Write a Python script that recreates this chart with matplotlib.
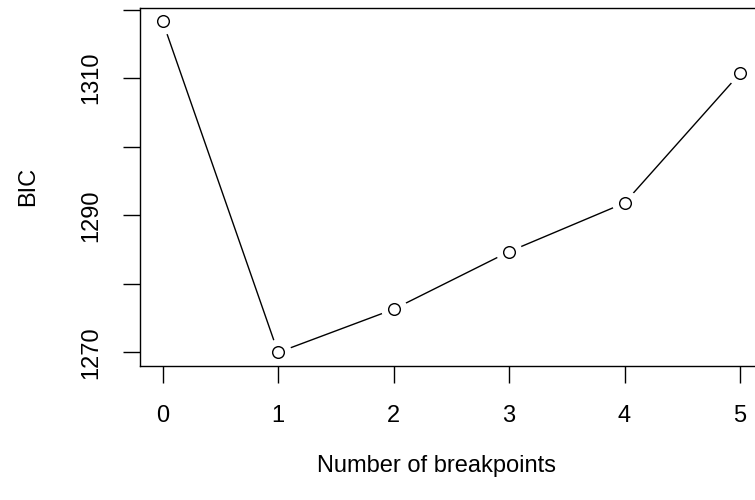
import matplotlib
matplotlib.use("Agg")
import matplotlib.pyplot as plt

breakpoints = [0, 1, 2, 3, 4, 5]
bic = [1318.3, 1270.0, 1276.3, 1284.7, 1291.8, 1310.7]
y_ticks = [1270, 1280, 1290, 1300, 1310, 1320]
y_tick_labels = ["1270", "", "1290", "", "1310", ""]

plt.rcParams["font.family"] = ["Liberation Sans", "DejaVu Sans"]

fig = plt.figure(figsize=(7.55, 5.0), dpi=100)
ax = fig.add_axes([139.5 / 755, 1 - 365.7 / 500, (763.1 - 139.5) / 755, (365.7 - 8) / 500])

# R type="b": line with gaps around the points
ax.plot(breakpoints, bic, color="black", lw=1.0, zorder=1)
ax.plot(breakpoints, bic, ls="none", marker="o", ms=19, mfc="white", mec="none", zorder=1.5)
ax.plot(breakpoints, bic, ls="none", marker="o", ms=8.4, mfc="white", mec="black", mew=1.0, zorder=2)

span = max(bic) - min(bic)
ax.set_xlim(-0.2, 5.2)
ax.set_ylim(min(bic) - 0.04 * span, max(bic) + 0.04 * span)

ax.set_xticks(breakpoints)
ax.set_yticks(y_ticks)
ax.set_yticklabels(y_tick_labels, rotation=90, va="center")
ax.tick_params(direction="out", length=12.2, width=1.0, labelsize=17)
ax.tick_params(axis="x", pad=16)
ax.tick_params(axis="y", pad=14.5)
for s in ax.spines.values():
    s.set_linewidth(1.0)

ax.set_xlabel("Number of breakpoints", fontsize=17, labelpad=20)
ax.xaxis.label.set_x(0.4755)
ax.set_ylabel("BIC", fontsize=17, labelpad=30)

fig.savefig("out.png", dpi=100)
